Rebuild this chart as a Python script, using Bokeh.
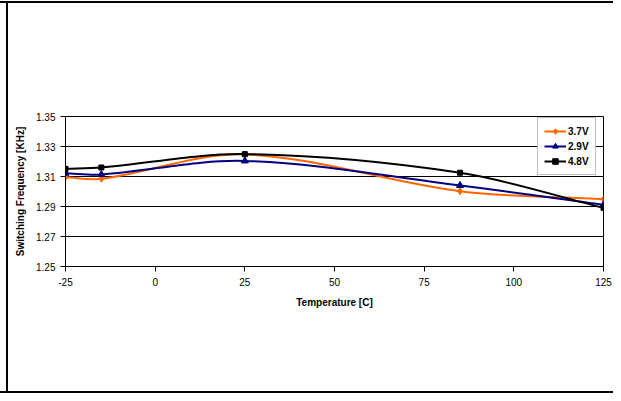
from bokeh.plotting import figure
from bokeh.models import (ColumnDataSource, Legend, LegendItem, FixedTicker,
                          Range1d)
from bokeh.embed import file_html
from bokeh.resources import INLINE

# ---- data ----
temperature = [-25, -15, 25, 85, 125]
f_3v7 = [1.3095, 1.3085, 1.3247, 1.3002, 1.2949]
f_2v9 = [1.3122, 1.3113, 1.3204, 1.3040, 1.2911]
f_4v8 = [1.3151, 1.3160, 1.3249, 1.3125, 1.2891]
series_names = ["3.7V", "2.9V", "4.8V"]
x_ticks = [-25, 0, 25, 50, 75, 100, 125]
y_ticks = [1.25, 1.27, 1.29, 1.31, 1.33, 1.35]

FONT = "Liberation Sans"


def smooth_segments(xs, ys):
    """Smoothed line as cubic Bezier segments (finite-difference tangents)."""
    n = len(xs)
    slopes = []
    for i in range(n):
        a = max(i - 1, 0)
        b = min(i + 1, n - 1)
        slopes.append((ys[b] - ys[a]) / (xs[b] - xs[a]))
    out = dict(x0=[], y0=[], x1=[], y1=[], cx0=[], cy0=[], cx1=[], cy1=[])
    for i in range(n - 1):
        d = (xs[i + 1] - xs[i]) / 3.0
        out["x0"].append(xs[i]); out["y0"].append(ys[i])
        out["x1"].append(xs[i + 1]); out["y1"].append(ys[i + 1])
        out["cx0"].append(xs[i] + d)
        out["cy0"].append(ys[i] + slopes[i] * d)
        out["cx1"].append(xs[i + 1] - d)
        out["cy1"].append(ys[i + 1] - slopes[i + 1] * d)
    return out


W, H = 613, 393
p = figure(width=W, height=H, output_backend="svg", toolbar_location=None,
           x_range=Range1d(-25, 125), y_range=Range1d(1.25, 1.35),
           min_border_left=65, min_border_right=W - 603,
           min_border_top=116, min_border_bottom=H - 266)
p.background_fill_color = "white"
p.border_fill_alpha = 0
p.outline_line_color = "black"
p.outline_line_width = 1
p.styles = {"background": (
    "linear-gradient(#000,#000) 0px 1px / 100% 2px no-repeat, "
    "linear-gradient(#000,#000) 6px 1px / 2px 100% no-repeat, "
    "linear-gradient(#000,#000) 0px 100% / 100% 2px no-repeat, #ffffff")}

# axes
for ax in (p.xaxis, p.yaxis):
    ax.axis_line_color = "black"
    ax.major_tick_line_color = "black"
    ax.major_tick_out = 5
    ax.major_tick_in = 0
    ax.minor_tick_line_color = None
    ax.major_label_text_font = FONT
    ax.major_label_text_font_size = "10px"
    ax.major_label_text_color = "black"
    ax.axis_label_text_font = FONT
    ax.axis_label_text_font_size = "10px"
    ax.axis_label_text_font_style = "bold"
    ax.axis_label_text_color = "black"

p.xaxis.ticker = FixedTicker(ticks=x_ticks)
p.yaxis.ticker = FixedTicker(ticks=y_ticks)
p.xaxis.major_label_overrides = {v: str(v) for v in x_ticks}
p.yaxis.major_label_overrides = {v: f"{v:.2f}" for v in y_ticks}
p.xaxis.major_label_standoff = 6
p.yaxis.major_label_standoff = 5
p.xaxis.axis_label = "Temperature [C]"
p.yaxis.axis_label = "Switching Frequency [KHz]"
p.xaxis.axis_label_standoff = 8
p.yaxis.axis_label_standoff = 7

p.xgrid.grid_line_color = None
p.ygrid.grid_line_color = "black"
p.ygrid.grid_line_width = 1
p.ygrid.ticker = FixedTicker(ticks=y_ticks)

colors = ["#FF6600", "#000080", "#000000"]
markers = ["diamond", "triangle", "square"]
msizes = [7, 7, 5]
series = [f_3v7, f_2v9, f_4v8]

items = []
for name, ys, col, mk, ms in zip(series_names, series, colors, markers, msizes):
    seg = ColumnDataSource(smooth_segments(temperature, ys))
    p.bezier(x0="x0", y0="y0", x1="x1", y1="y1", cx0="cx0", cy0="cy0",
             cx1="cx1", cy1="cy1", source=seg, line_color=col, line_width=2)
    sc = p.scatter(temperature, ys, marker=mk, size=ms, fill_color=col,
                   line_color=col)
    lg = p.line([temperature[0]], [float("nan")], line_color=col, line_width=2)
    items.append(LegendItem(label=name, renderers=[lg, sc]))

legend = Legend(items=items, location=(472, 91),
                label_text_font=FONT, label_text_font_size="10px",
                label_text_font_style="bold", label_text_color="black",
                glyph_width=22, glyph_height=14, label_height=14,
                label_standoff=2, spacing=1, padding=6, margin=0,
                border_line_color="#808080", border_line_width=1,
                background_fill_color="white", background_fill_alpha=1)
p.add_layout(legend, "center")

open("out.html", "w").write(file_html(p, INLINE))
